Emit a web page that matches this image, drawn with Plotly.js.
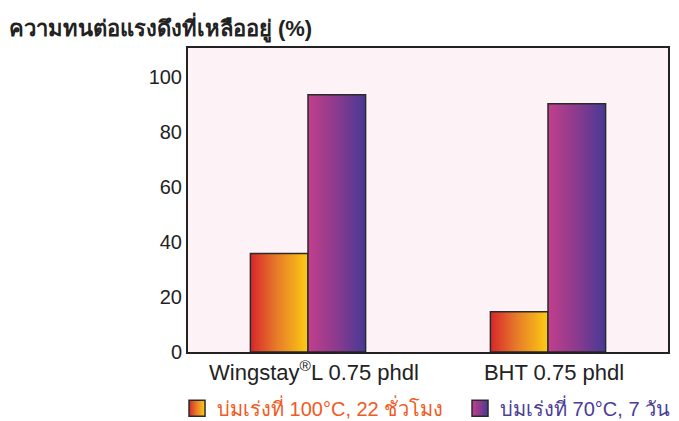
<!DOCTYPE html>
<html>
<head>
<meta charset="utf-8">
<script src="https://cdn.plot.ly/plotly-3.0.1.min.js"></script>
<style>
html,body{margin:0;padding:0;background:#fff;}
#chart{width:679px;height:421px;}
</style>
</head>
<body>
<div id="chart"></div>
<script>
const categories = ['Wingstay<sup>®</sup>L 0.75 phdl', 'BHT 0.75 phdl'];
const seriesNames = [
  '<span style="color:#f15a24">บ่มเร่งที่ 100°C, 22 ชั่วโมง</span>',
  '<span style="color:#4b3c98">บ่มเร่งที่ 70°C, 7 วัน</span>'
];
const values100C = [35.8, 14.6];
const values70C = [93.5, 90.2];
const yTicks = [0, 20, 40, 60, 80, 100];

const FONT = '"Liberation Sans", "Noto Sans", "DejaVu Sans", sans-serif';

const traces = [
  {type:'bar', x:categories, y:values100C, name:seriesNames[0], legend:'legend',
   marker:{color:'#e8702a', line:{color:'#2a2a2a', width:1.5}}},
  {type:'bar', x:categories, y:values70C, name:seriesNames[1], legend:'legend2',
   marker:{color:'#8a3a90', line:{color:'#2a2a2a', width:1.5}}}
];

const legendCommon = {orientation:'h', xref:'container', yref:'container',
  xanchor:'left', y:0.03, yanchor:'middle',
  font:{family:FONT, size:20}, bgcolor:'rgba(0,0,0,0)'};

const layout = {
  width:679, height:421,
  margin:{l:188, r:11, t:48, b:69, autoexpand:false},
  paper_bgcolor:'#ffffff',
  plot_bgcolor:'#fdf2f6',
  font:{family:FONT, size:20, color:'#222222'},
  title:{text:'<b>ความทนต่อแรงดึงที่เหลืออยู่ (%)</b>', x:0.013, xanchor:'left',
         xref:'container', yref:'container', y:0.933, yanchor:'middle',
         font:{family:FONT, size:22, color:'#222222'}},
  barmode:'group',
  bargap:0.52,
  bargroupgap:0,
  showlegend:true,
  legend:Object.assign({}, legendCommon, {x:0.2607}),
  legend2:Object.assign({}, legendCommon, {x:0.6775}),
  xaxis:{type:'category', range:[-0.5, 1.5], showline:true, linecolor:'#222',
         linewidth:2, mirror:true, ticks:'', showgrid:false, zeroline:false,
         ticklabelshift:6,
         tickfont:{family:FONT, size:22, color:'#222'}},
  yaxis:{range:[0, 110.5], tickvals:yTicks, showline:true, linecolor:'#222',
         linewidth:2, mirror:true, ticks:'', showgrid:false, zeroline:false,
         tickfont:{family:FONT, size:20, color:'#222'}}
};

function applyGradients(gd){
  const svg = gd.querySelector('svg.main-svg');
  const ns = 'http://www.w3.org/2000/svg';
  let defs = svg.querySelector('defs');
  if(!defs){ defs = document.createElementNS(ns,'defs'); svg.insertBefore(defs, svg.firstChild); }
  const grads = [
    {id:'gOrange', stops:[['0%','#d8262a'],['45%','#e67a2a'],['100%','#fdcc12']]},
    {id:'gPurple', stops:[['0%','#c23f8c'],['50%','#8b3a8e'],['100%','#463a96']]}
  ];
  grads.forEach(g=>{
    if(defs.querySelector('#'+g.id)) return;
    const lg = document.createElementNS(ns,'linearGradient');
    lg.setAttribute('id', g.id);
    lg.setAttribute('x1','0'); lg.setAttribute('y1','0');
    lg.setAttribute('x2','1'); lg.setAttribute('y2','0');
    g.stops.forEach(s=>{
      const st = document.createElementNS(ns,'stop');
      st.setAttribute('offset', s[0]); st.setAttribute('stop-color', s[1]);
      lg.appendChild(st);
    });
    defs.appendChild(lg);
  });
  const ids = ['gOrange','gPurple'];
  gd.querySelectorAll('.barlayer .trace').forEach((tr,i)=>{
    tr.querySelectorAll('path').forEach(p=>{ p.style.fill = 'url(#'+ids[i]+')'; });
  });
  ['legend','legend2'].forEach((cls,i)=>{
    const lg = gd.querySelector('g.'+cls);
    if(!lg) return;
    lg.querySelectorAll('[clip-path]').forEach(el=>el.removeAttribute('clip-path'));
    lg.querySelectorAll('.legendpoints path').forEach(p=>{
      p.style.fill = 'url(#'+ids[i]+')';
      p.style.stroke = '#2a2a2a';
      p.setAttribute('d','M8,8H-8V-8H8Z');
    });
  });
}

Plotly.newPlot('chart', traces, layout, {staticPlot:true, displayModeBar:false}).then(applyGradients);
</script>
</body>
</html>
